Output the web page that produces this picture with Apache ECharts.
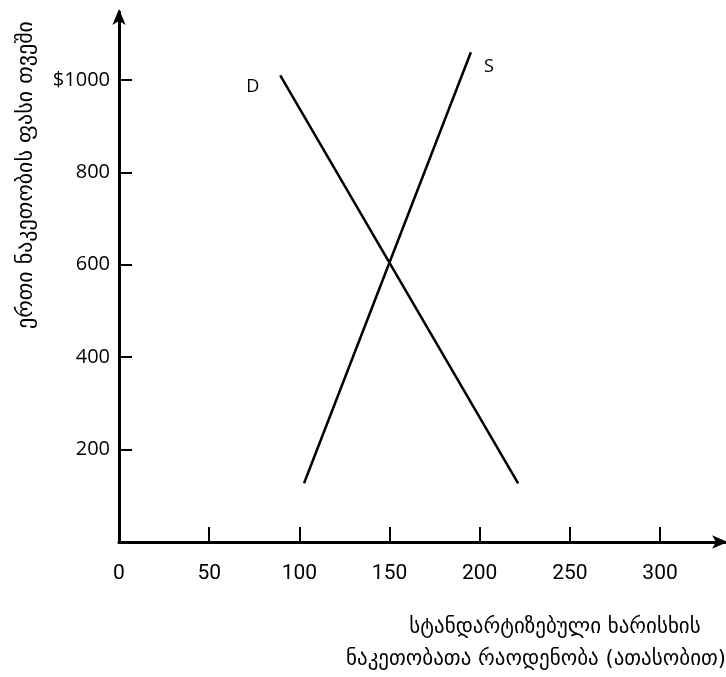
<!DOCTYPE html>
<html lang="ka">
<head>
  <meta charset="UTF-8" />
  <title>მიწოდება და მოთხოვნა</title>
  <script src="https://cdn.jsdelivr.net/npm/echarts@6/dist/echarts.min.js"></script>
  <style>
    html, body { margin: 0; padding: 0; background: #fff; }
    #chart { width: 726px; height: 677px; }
  </style>
</head>
<body>
  <div id="chart"></div>
  <script type="text/javascript">
    // მონაცემები
    var demandQty = [89.4, 221.3];
    var demandPrice = [1010, 127];
    var supplyQty = [102.6, 195.1];
    var supplyPrice = [127, 1060];

    var xTicks = [50, 100, 150, 200, 250, 300];
    var xLabels = [0, 50, 100, 150, 200, 250, 300];
    var yTicks = [200, 400, 600, 800, 1000];
    var yTickLabels = ['200', '400', '600', '800', '$1000'];

    var yTitle = 'ერთი ნაკეთობის ფასი თვეში';
    var xTitle1 = 'სტანდარტიზებული ხარისხის';
    var xTitle2 = 'ნაკეთობათა რაოდენობა (ათასობით)';

    function pairs(xs, ys) {
      return xs.map(function (x, i) { return [x, ys[i]]; });
    }

    var myChart = echarts.init(document.getElementById('chart'));

    var lineStyle = { color: '#000', width: 2.5 };
    var markFont = { fontFamily: 'Open Sans', fontSize: 18, color: '#000' };

    function titleText(text, x, y, rot, size) {
      return {
        type: 'text',
        x: x,
        y: y,
        rotation: rot,
        style: {
          text: text,
          font: size + 'px "DejaVu Sans"',
          fill: '#000',
          align: 'center',
          verticalAlign: 'middle'
        }
      };
    }

    var option = {
      animation: false,
      grid: { left: 119, right: 1, top: 12, bottom: 135 },
      graphic: [
        titleText(yTitle, 26, 175, Math.PI / 2, 22),
        titleText(xTitle1, 555, 628, 0, 21),
        titleText(xTitle2, 536, 660, 0, 21)
      ],
      xAxis: {
        type: 'value',
        min: 0,
        max: 336,
        splitLine: { show: false },
        axisLine: {
          lineStyle: { color: '#000', width: 3 },
          symbol: ['none', 'arrow'],
          symbolSize: [10, 16],
          symbolOffset: [0, 3]
        },
        axisTick: {
          inside: true,
          length: 15,
          lineStyle: { color: '#000', width: 2 },
          customValues: xTicks
        },
        axisLabel: {
          customValues: xLabels,
          margin: 21,
          fontFamily: 'Roboto',
          fontSize: 21,
          color: '#000'
        }
      },
      yAxis: {
        type: 'value',
        min: 0,
        max: 1147,
        splitLine: { show: false },
        axisLine: {
          lineStyle: { color: '#000', width: 3 },
          symbol: ['none', 'arrow'],
          symbolSize: [10, 16],
          symbolOffset: [0, 3]
        },
        axisTick: {
          inside: true,
          length: 13,
          lineStyle: { color: '#000', width: 2 },
          customValues: yTicks
        },
        axisLabel: {
          customValues: yTicks,
          margin: 9,
          fontFamily: 'Open Sans',
          fontSize: 20,
          color: '#000',
          formatter: function (v) { return yTickLabels[yTicks.indexOf(v)]; }
        }
      },
      series: [
        {
          name: 'D',
          type: 'line',
          data: pairs(demandQty, demandPrice).reverse(),
          showSymbol: false,
          lineStyle: lineStyle,
          endLabel: Object.assign({ show: true, formatter: '{a}', offset: [-42, 12] }, markFont)
        },
        {
          name: 'S',
          type: 'line',
          data: pairs(supplyQty, supplyPrice),
          showSymbol: false,
          lineStyle: lineStyle,
          endLabel: Object.assign({ show: true, formatter: '{a}', offset: [5, 15] }, markFont)
        }
      ]
    };

    myChart.setOption(option);
  </script>
</body>
</html>
